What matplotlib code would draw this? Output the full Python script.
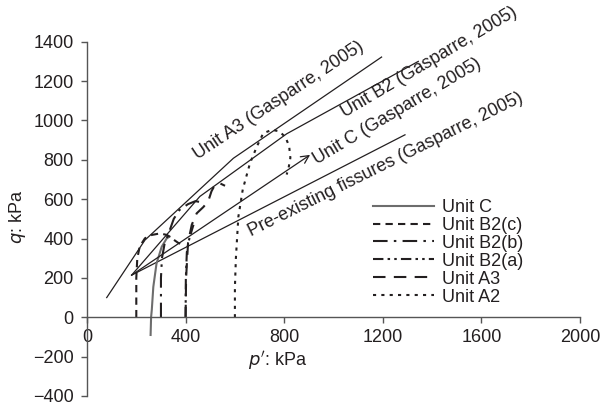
import matplotlib
matplotlib.use("Agg")
import matplotlib.pyplot as plt

plt.rcParams['font.family'] = ['Liberation Sans', 'DejaVu Sans']
INK = '#231f20'

# Failure envelopes (Gasparre, 2005)
env_a3_p = [80, 235, 594, 1195]
env_a3_q = [100, 392, 808, 1322]
env_b2_p = [181, 458, 810, 1344]
env_b2_q = [214, 614, 932, 1300]
env_c_p = [181, 905]
env_c_q = [214, 825]
env_fis_p = [181, 1290]
env_fis_q = [214, 927]

# Stress paths
path_c_p = [258, 260, 263, 269, 282, 303, 323, 335]
path_c_q = [-90, 0, 40, 154, 273, 358, 400, 410]
path_b2c_p = [200, 200, 204, 214, 235, 262, 296, 325, 345, 370, 392]
path_b2c_q = [0, 200, 300, 360, 401, 418, 426, 418, 400, 378, 366]
path_b2b_p = [300, 300, 304, 315, 335, 352, 375, 410, 440, 460]
path_b2b_q = [0, 200, 300, 375, 440, 500, 545, 575, 590, 585]
path_b2a_p = [400, 401, 405, 412, 420, 432]
path_b2a_q = [0, 200, 330, 385, 420, 470]
path_a3_p = [400, 402, 410, 425, 445, 472, 492, 505, 520, 540, 560]
path_a3_q = [0, 200, 380, 470, 528, 560, 590, 640, 675, 680, 668]
path_a2_p = [600, 600, 604, 614, 632, 661, 690, 715, 750, 780, 805, 820, 825, 818, 810]
path_a2_q = [0, 150, 300, 510, 650, 782, 870, 935, 952, 945, 915, 870, 810, 760, 725]

x_ticks = [0, 400, 800, 1200, 1600, 2000]
y_ticks = [-400, -200, 0, 200, 400, 600, 800, 1000, 1200, 1400]

FS = 13

fig = plt.figure(figsize=(6.01, 4.08), dpi=100)
ax = fig.add_axes([87 / 601, 1 - 396 / 408, 493 / 601, (396 - 41.7) / 408])
ax.set_xlim(0, 2000)
ax.set_ylim(-400, 1400)

for s in ('top', 'right'):
    ax.spines[s].set_visible(False)
ax.spines['left'].set_position(('data', 0))
ax.spines['bottom'].set_position(('data', 0))
for s in ('left', 'bottom'):
    ax.spines[s].set_color('#555555')
    ax.spines[s].set_linewidth(1.0)

ax.set_xticks(x_ticks)
ax.set_yticks(y_ticks)
ax.tick_params(axis='both', direction='out', length=4.5, width=1.0,
               color='#555555', labelsize=FS, labelcolor=INK)
ax.tick_params(axis='x', pad=4)
ax.tick_params(axis='y', pad=5)

lw_env = 0.9
ax.plot(env_a3_p, env_a3_q, color=INK, lw=lw_env)
ax.plot(env_b2_p, env_b2_q, color=INK, lw=lw_env)
ax.plot(env_fis_p, env_fis_q, color=INK, lw=lw_env)
ax.annotate('', xy=(env_c_p[1], env_c_q[1]), xytext=(env_c_p[0], env_c_q[0]),
            arrowprops=dict(arrowstyle='->', color=INK, lw=lw_env,
                            shrinkA=0, shrinkB=0, mutation_scale=14))

lw_path = 1.5
ax.plot(path_c_p, path_c_q, color='#6d6d6d', lw=lw_path, label='Unit C')
ax.plot(path_b2c_p, path_b2c_q, color=INK, lw=lw_path, dashes=(3.5, 2.5),
        label='Unit B2(c)')
ax.plot(path_b2b_p, path_b2b_q, color=INK, lw=lw_path, dashes=(7, 3, 1.2, 3),
        label='Unit B2(b)')
ax.plot(path_b2a_p, path_b2a_q, color=INK, lw=lw_path,
        dashes=(5, 2, 1.2, 2, 1.2, 2), label='Unit B2(a)')
ax.plot(path_a3_p, path_a3_q, color=INK, lw=lw_path, dashes=(6, 4),
        label='Unit A3')
ax.plot(path_a2_p, path_a2_q, color=INK, lw=lw_path, dashes=(1.5, 2.5),
        label='Unit A2')

leg = ax.legend(loc='upper left', bbox_to_anchor=((373 - 87) / 493, (396 - 199) / 354.3),
                frameon=False, fontsize=FS, handlelength=3.4, handletextpad=0.4,
                labelspacing=0.05, borderpad=0, borderaxespad=0, labelcolor=INK)


def px2data(px, py):
    return (px - 87) / 0.2465, (317 - py) / 0.1964


labels = [
    ('Unit A3 (Gasparre, 2005)', (198, 160), 33.6),
    ('Unit B2 (Gasparre, 2005)', (345, 118), 30.7),
    ('Unit C (Gasparre, 2005)', (317, 165), 30.8),
    ('Pre-existing fissures (Gasparre, 2005)', (251, 236), 26.4),
]
for txt, (px, py), ang in labels:
    x, y = px2data(px, py)
    ax.text(x, y, txt, rotation=ang, rotation_mode='anchor', ha='left',
            va='baseline', fontsize=FS, color=INK)

ax.text(*px2data(17, 217), r'$q$: kPa', rotation=90, ha='center', va='center',
        fontsize=FS, color=INK)
ax.text(*px2data(278, 360), "$p'$: kPa", ha='center', va='center',
        fontsize=FS, color=INK)

fig.savefig('out.png', dpi=100)
